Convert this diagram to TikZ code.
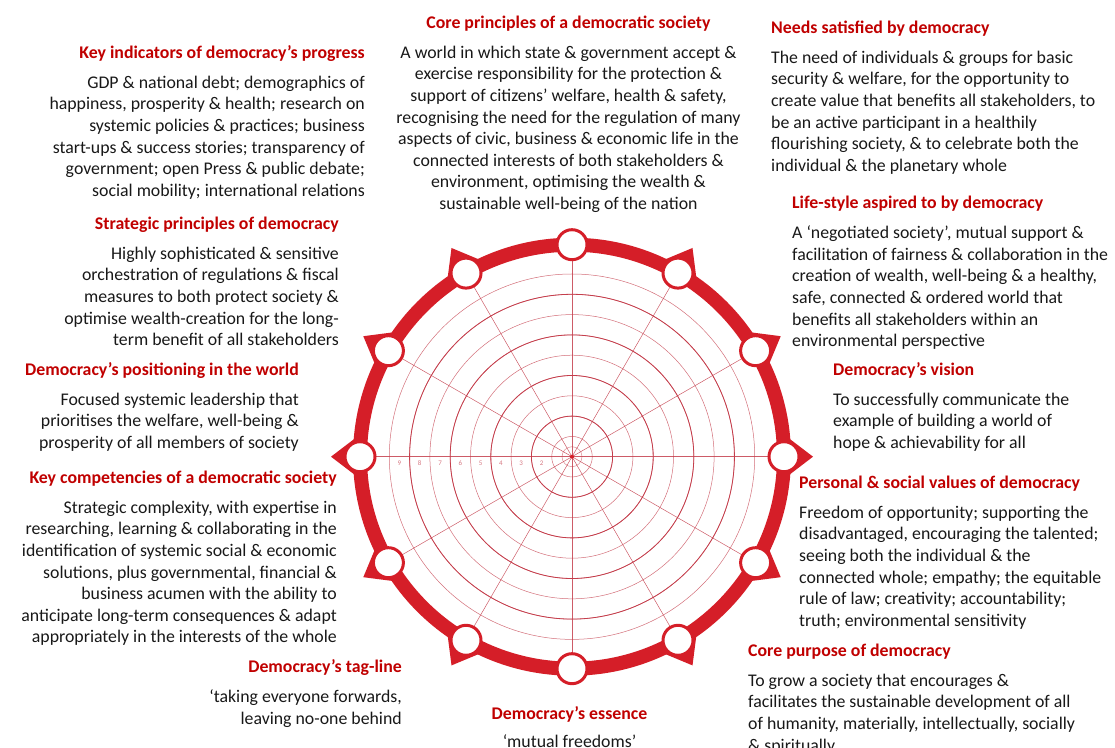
\documentclass[tikz,border=0pt]{standalone}
\usepackage{fontspec}
\setmainfont{Carlito}
\usepackage{tikz}
\usetikzlibrary{calc,positioning}

\definecolor{headred}{RGB}{192,0,0}
\definecolor{ringred}{RGB}{213,30,40}
\definecolor{gridred}{RGB}{196,62,76}
\definecolor{bodytext}{RGB}{24,24,24}

\begin{document}
\begin{tikzpicture}[x=1pt, y=1pt,
        heading/.style={text=headred, font=\fontsize{17.8}{21.6}\selectfont\bfseries, inner sep=0pt, text depth=4pt},
        blurb/.style={text=bodytext, font=\fontsize{17.8}{21.6}\selectfont, inner sep=0pt},
        hub/.style={circle, draw=ringred, line width=3pt, fill=white, minimum size=30pt, inner sep=0pt},
        gridline/.style={draw=gridred, line width=0.5pt},
        node distance=13pt]
    \useasboundingbox (0,0) rectangle (1115,747);
    \coordinate (c) at (572,290.3);

    % polar grid
    \foreach \k in {1,...,9}
        \draw[gridline, opacity=0.75] (c) circle ({20.3*\k});
    \foreach \k in {2,4,...,8}
        \draw[gridline, line width=0.8pt] (c) circle ({20.3*\k});
    \draw[gridline, opacity=0.6] (c) circle (10);
    \foreach \a in {0,30,...,330}
        \draw[gridline, opacity=0.85] (c) -- ($(c)+(\a:206)$);
    \fill[ringred] (c) circle (2pt);
    \foreach \k in {2,...,9}
        \node[font=\fontsize{7}{7}\selectfont, text=gridred!70, inner sep=0pt] (tick\k) at ($(c)+({-(\k-0.5)*20.3},-6.5)$) {\k};

    % outer ring with spikes and hubs
    \draw[ringred, line width=14pt] (c) circle (212);
    \foreach \a in {0,30,60,120,150,180,210,240,300,330}
        \fill[ringred] ($(c)+({\a-6}:213)$) -- ($(c)+(\a:241)$) -- ($(c)+({\a+6}:213)$) -- cycle;
    \foreach \a in {0,30,...,330}
        \node[hub] (hub\a) at ($(c)+(\a:212)$) {};

    % left column
    \node[heading, anchor=base east] (indH) at (365,688.5) {Key indicators of democracy’s progress};
    \node[blurb, align=right, below left=13pt and 0pt of indH.south east] (indB)
        {GDP \& national debt; demographics of\\
         happiness, prosperity \& health; research on\\
         systemic policies \& practices; business\\
         start-ups \& success stories; transparency of\\
         government; open Press \& public debate;\\
         social mobility; international relations};

    \node[heading, anchor=base east] (stratH) at (339,517.5) {Strategic principles of democracy};
    \node[blurb, align=right, below left=13pt and 0pt of stratH.south east] (stratB)
        {Highly sophisticated \& sensitive\\
         orchestration of regulations \& fiscal\\
         measures to both protect society \&\\
         optimise wealth-creation for the long-\\
         term benefit of all stakeholders};

    \node[heading, anchor=base east] (posH) at (299,371.5) {Democracy’s positioning in the world};
    \node[blurb, align=right, below left=13pt and 0pt of posH.south east] (posB)
        {Focused systemic leadership that\\
         prioritises the welfare, well-being \&\\
         prosperity of all members of society};

    \node[heading, anchor=base east] (compH) at (337,263.5) {Key competencies of a democratic society};
    \node[blurb, align=right, below left=13pt and 0pt of compH.south east] (compB)
        {Strategic complexity, with expertise in\\
         researching, learning \& collaborating in the\\
         identification of systemic social \& economic\\
         solutions, plus governmental, financial \&\\
         business acumen with the ability to\\
         anticipate long-term consequences \& adapt\\
         appropriately in the interests of the whole};

    \node[heading, anchor=base east] (tagH) at (402,74.5) {Democracy’s tag-line};
    \node[blurb, align=right, below left=13pt and 0pt of tagH.south east] (tagB)
        {‘taking everyone forwards,\\
         leaving no-one behind};

    % centre column
    \node[heading, anchor=base] (coreH) at (568.5,718.5) {Core principles of a democratic society};
    \node[blurb, align=center, below=13pt of coreH] (coreB)
        {A world in which state \& government accept \&\\
         exercise responsibility for the protection \&\\
         support of citizens’ welfare, health \& safety,\\
         recognising the need for the regulation of many\\
         aspects of civic, business \& economic life in the\\
         connected interests of both stakeholders \&\\
         environment, optimising the wealth \&\\
         sustainable well-being of the nation};

    \node[heading, anchor=base] (essH) at (569.5,27.5) {Democracy’s essence};
    \node[blurb, align=center, below=11pt of essH] (essB) {‘mutual freedoms’};

    % right column
    \node[heading, anchor=base west] (needH) at (771,713.5) {Needs satisfied by democracy};
    \node[blurb, align=left, below right=13pt and 0pt of needH.south west] (needB)
        {The need of individuals \& groups for basic\\
         security \& welfare, for the opportunity to\\
         create value that benefits all stakeholders, to\\
         be an active participant in a healthily\\
         flourishing society, \& to celebrate both the\\
         individual \& the planetary whole};

    \node[heading, anchor=base west] (lifeH) at (792,538.5) {Life-style aspired to by democracy};
    \node[blurb, align=left, below right=13pt and 0pt of lifeH.south west] (lifeB)
        {A ‘negotiated society’, mutual support \&\\
         facilitation of fairness \& collaboration in the\\
         creation of wealth, well-being \& a healthy,\\
         safe, connected \& ordered world that\\
         benefits all stakeholders within an\\
         environmental perspective};

    \node[heading, anchor=base west] (visH) at (833,371.5) {Democracy’s vision};
    \node[blurb, align=left, below right=13pt and 0pt of visH.south west] (visB)
        {To successfully communicate the\\
         example of building a world of\\
         hope \& achievability for all};

    \node[heading, anchor=base west] (valH) at (799,258.5) {Personal \& social values of democracy};
    \node[blurb, align=left, below right=13pt and 0pt of valH.south west] (valB)
        {Freedom of opportunity; supporting the\\
         disadvantaged, encouraging the talented;\\
         seeing both the individual \& the\\
         connected whole; empathy; the equitable\\
         rule of law; creativity; accountability;\\
         truth; environmental sensitivity};

    \node[heading, anchor=base west] (purpH) at (748,90.5) {Core purpose of democracy};
    \node[blurb, align=left, below right=13pt and 0pt of purpH.south west] (purpB)
        {To grow a society that encourages \&\\
         facilitates the sustainable development of all\\
         of humanity, materially, intellectually, socially\\
         \& spiritually};
\end{tikzpicture}
\end{document}
